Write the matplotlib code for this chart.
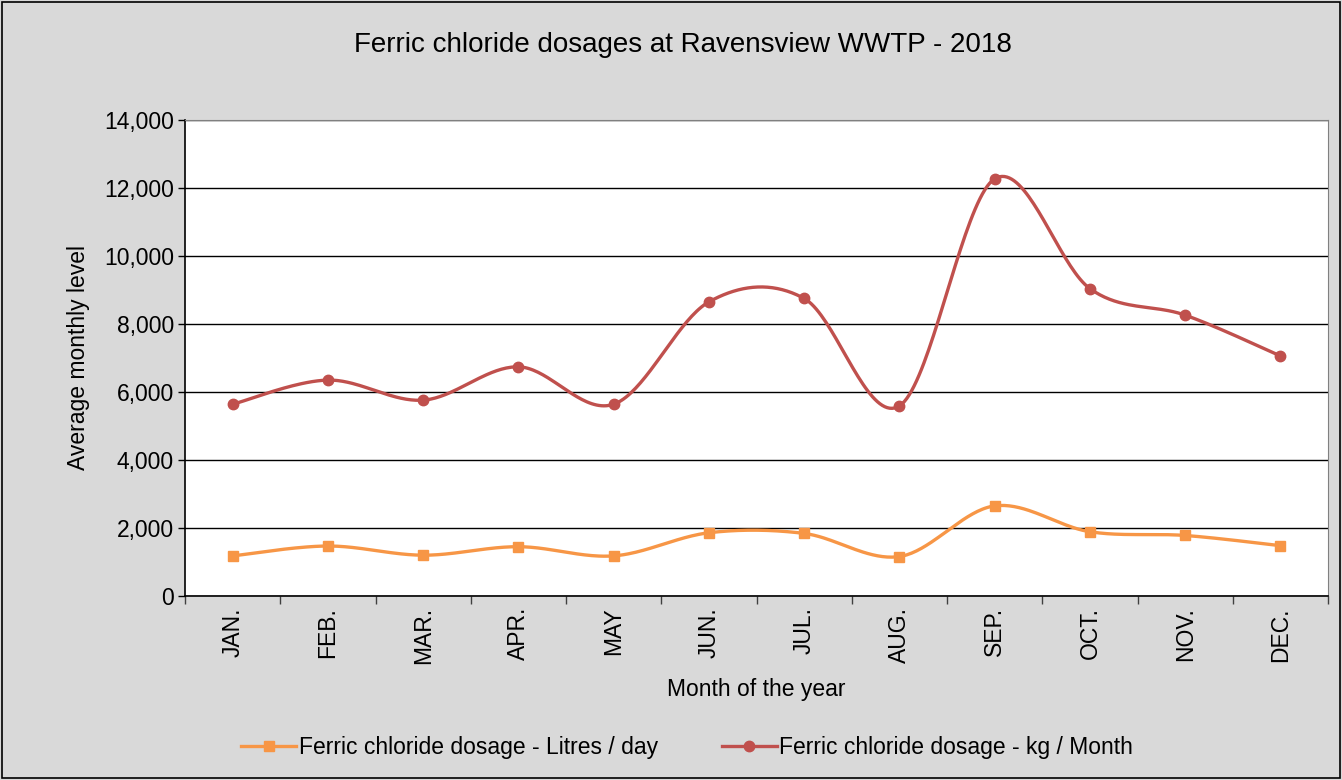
#!/usr/bin/env python3
import numpy as np
import matplotlib
matplotlib.use("Agg")
import matplotlib.pyplot as plt
from matplotlib.patches import Rectangle
from matplotlib.ticker import FuncFormatter, MultipleLocator, FixedLocator

plt.rcParams["font.family"] = ["Liberation Sans", "DejaVu Sans"]

months = ["JAN.", "FEB.", "MAR.", "APR.", "MAY", "JUN.",
          "JUL.", "AUG.", "SEP.", "OCT.", "NOV.", "DEC."]
litres_day = [1180, 1470, 1200, 1450, 1180, 1860,
              1840, 1160, 2650, 1890, 1780, 1480]
kg_month = [5640, 6350, 5760, 6740, 5640, 8650,
            8750, 5590, 12270, 9040, 8260, 7060]


def smooth(x, y, n=40):
    # Excel-style smoothed line (Catmull-Rom through the points)
    x = np.asarray(x, float)
    y = np.asarray(y, float)
    px = np.concatenate([[x[0]], x, [x[-1]]])
    py = np.concatenate([[y[0]], y, [y[-1]]])
    xs, ys = [], []
    t = np.linspace(0, 1, n)
    for i in range(1, len(px) - 2):
        p0 = np.array([px[i], py[i]])
        p3 = np.array([px[i + 1], py[i + 1]])
        p1 = p0 + (np.array([px[i + 1], py[i + 1]]) - np.array([px[i - 1], py[i - 1]])) / 6
        p2 = p3 - (np.array([px[i + 2], py[i + 2]]) - np.array([px[i], py[i]])) / 6
        b = ((1 - t) ** 3)[:, None] * p0 + (3 * (1 - t) ** 2 * t)[:, None] * p1 \
            + (3 * (1 - t) * t ** 2)[:, None] * p2 + (t ** 3)[:, None] * p3
        xs.extend(b[:, 0])
        ys.extend(b[:, 1])
    return np.array(xs), np.array(ys)


fs = 16.5

fig = plt.figure(figsize=(13.42, 7.80), dpi=100)
fig.patch.set_facecolor("#d9d9d9")
fig.patches.append(Rectangle((0.0015, 0.002), 0.997, 0.996, transform=fig.transFigure,
                             fill=False, edgecolor="black", linewidth=1.2))

ax = fig.add_axes([0.1379, 0.2359, 0.8517, 0.6103])
ax.set_facecolor("white")

x = np.arange(len(months))
orange = "#F79646"
red = "#C0504D"

sx, sy = smooth(x, litres_day)
ax.plot(sx, sy, color=orange, lw=2.4, solid_capstyle="round")
ax.plot(x, litres_day, ls="none", marker="s", ms=7.5, color=orange)
sx, sy = smooth(x, kg_month)
ax.plot(sx, sy, color=red, lw=2.4, solid_capstyle="round")
ax.plot(x, kg_month, ls="none", marker="o", ms=7.5, color=red)

# legend handles
ax.plot([], [], color=orange, lw=2.4, marker="s", ms=7.5,
        label="Ferric chloride dosage - Litres / day")
ax.plot([], [], color=red, lw=2.4, marker="o", ms=7.5,
        label="Ferric chloride dosage - kg / Month")

ax.set_xlim(-0.5, len(months) - 0.5)
ax.set_ylim(0, 14000)
ax.yaxis.set_major_locator(MultipleLocator(2000))
ax.yaxis.set_major_formatter(FuncFormatter(lambda v, p: f"{int(v):,}"))
ax.grid(axis="y", color="black", lw=1)
ax.set_axisbelow(True)

ax.set_xticks(x)
ax.set_xticklabels(months, rotation=90, fontsize=fs)
ax.tick_params(axis="x", which="major", length=0, pad=8)
ax.xaxis.set_minor_locator(FixedLocator(np.arange(-0.5, len(months), 1)))
ax.tick_params(axis="x", which="minor", length=6, width=1, color="#404040")
ax.tick_params(axis="y", length=5, width=1, labelsize=fs, pad=3)

for s in ["top", "right"]:
    ax.spines[s].set_color("#808080")
ax.spines["left"].set_linewidth(1.2)
ax.spines["bottom"].set_linewidth(1.2)

ax.set_xlabel("Month of the year", fontsize=fs, labelpad=10)
ax.set_ylabel("Average monthly level", fontsize=fs, labelpad=10)
fig.text(0.509, 0.942, "Ferric chloride dosages at Ravensview WWTP - 2018",
         ha="center", va="center", fontsize=20)

fig.legend(loc="center", bbox_to_anchor=(0.512, 0.042), ncol=2, frameon=False,
           fontsize=fs, handlelength=2.4, columnspacing=2.8, handletextpad=0.1)

fig.savefig("out.png", dpi=100, facecolor=fig.get_facecolor())
